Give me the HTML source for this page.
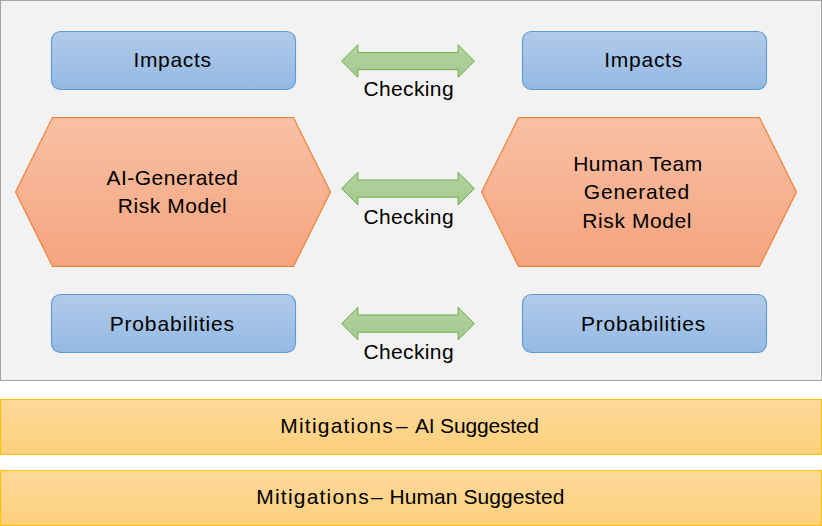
<!DOCTYPE html>
<html>
<head>
<meta charset="utf-8">
<style>
html,body{margin:0;padding:0;background:#ffffff;width:822px;height:526px;overflow:hidden;}
svg{display:block;}
text{font-family:"Liberation Sans", sans-serif;font-size:21px;fill:#000000;}
</style>
</head>
<body>
<svg width="822" height="526" viewBox="0 0 822 526">
<defs>
  <linearGradient id="gb" x1="0" y1="0" x2="0" y2="1">
    <stop offset="0" stop-color="#b1cbe9"/>
    <stop offset="1" stop-color="#95b9e4"/>
  </linearGradient>
  <linearGradient id="go" x1="0" y1="0" x2="0" y2="1">
    <stop offset="0" stop-color="#f8c0a5"/>
    <stop offset="1" stop-color="#f5a47e"/>
  </linearGradient>
  <linearGradient id="gg" x1="0" y1="0" x2="0" y2="1">
    <stop offset="0" stop-color="#b2d3a1"/>
    <stop offset="1" stop-color="#a2c98e"/>
  </linearGradient>
  <linearGradient id="gy" x1="0" y1="0" x2="0" y2="1">
    <stop offset="0" stop-color="#fed99b"/>
    <stop offset="1" stop-color="#fdd07c"/>
  </linearGradient>
</defs>

<!-- frame -->
<rect x="0.5" y="0.5" width="821" height="380" fill="#f2f2f2" stroke="#a5a5a5" stroke-width="1"/>

<!-- blue boxes -->
<rect x="51.5" y="31.5" width="244" height="58" rx="9" ry="9" fill="url(#gb)" stroke="#5b9bd5" stroke-width="1.1"/>
<rect x="522.5" y="31.5" width="244" height="58" rx="9" ry="9" fill="url(#gb)" stroke="#5b9bd5" stroke-width="1.1"/>
<rect x="51.5" y="294.5" width="244" height="58" rx="9" ry="9" fill="url(#gb)" stroke="#5b9bd5" stroke-width="1.1"/>
<rect x="522.5" y="294.5" width="244" height="58" rx="9" ry="9" fill="url(#gb)" stroke="#5b9bd5" stroke-width="1.1"/>

<!-- hexagons -->
<polygon points="15.5,192 52.5,117.5 293.5,117.5 330.5,192 293.5,266.5 52.5,266.5" fill="url(#go)" stroke="#ed7d31" stroke-width="1.1"/>
<polygon points="481.5,192 518.5,117.5 759.5,117.5 796.5,192 759.5,266.5 518.5,266.5" fill="url(#go)" stroke="#ed7d31" stroke-width="1.1"/>

<!-- arrows -->
<polygon points="341.6,61.1 357.9,44.8 357.9,52.5 458.1,52.5 458.1,44.8 474.4,61.1 458.1,77.4 458.1,69.7 357.9,69.7 357.9,77.4" fill="url(#gg)" stroke="#70ad47" stroke-width="1"/>
<polygon points="341.6,188.6 357.9,172.3 357.9,180 458.1,180 458.1,172.3 474.4,188.6 458.1,204.9 458.1,197.2 357.9,197.2 357.9,204.9" fill="url(#gg)" stroke="#70ad47" stroke-width="1"/>
<polygon points="341.6,323.6 357.9,307.3 357.9,315 458.1,315 458.1,307.3 474.4,323.6 458.1,339.9 458.1,332.2 357.9,332.2 357.9,339.9" fill="url(#gg)" stroke="#70ad47" stroke-width="1"/>

<!-- bars -->
<rect x="0.5" y="399.5" width="821" height="55" fill="url(#gy)" stroke="#ffc000" stroke-width="1"/>
<rect x="0.5" y="470.5" width="821" height="55" fill="url(#gy)" stroke="#ffc000" stroke-width="1"/>

<!-- text -->
<text x="172.6" y="67.4" text-anchor="middle" letter-spacing="0.7">Impacts</text>
<text x="643.6" y="67.4" text-anchor="middle" letter-spacing="0.72">Impacts</text>
<text x="408.7" y="96" text-anchor="middle" letter-spacing="0.37">Checking</text>
<text x="408.7" y="224" text-anchor="middle" letter-spacing="0.37">Checking</text>
<text x="408.7" y="358.9" text-anchor="middle" letter-spacing="0.37">Checking</text>
<text x="172.5" y="184.6" text-anchor="middle" letter-spacing="0.5">AI-Generated</text>
<text x="172.5" y="213.3" text-anchor="middle" letter-spacing="0.58">Risk Model</text>
<text x="637.9" y="170.9" text-anchor="middle" letter-spacing="0.5">Human Team</text>
<text x="636.9" y="199.1" text-anchor="middle" letter-spacing="0.76">Generated</text>
<text x="637.2" y="227.7" text-anchor="middle" letter-spacing="0.58">Risk Model</text>
<text x="172.3" y="330.6" text-anchor="middle" letter-spacing="0.83">Probabilities</text>
<text x="643.5" y="330.6" text-anchor="middle" letter-spacing="0.83">Probabilities</text>
<text x="280.3" y="433" letter-spacing="1.2">Mitigations</text>
<text x="396" y="433">–</text>
<text x="415" y="433" letter-spacing="-0.19">AI Suggested</text>
<text x="256.3" y="504.3" letter-spacing="1.2">Mitigations</text>
<text x="371" y="504.3">–</text>
<text x="389.5" y="504.3" letter-spacing="0.07">Human Suggested</text>
</svg>
</body>
</html>
